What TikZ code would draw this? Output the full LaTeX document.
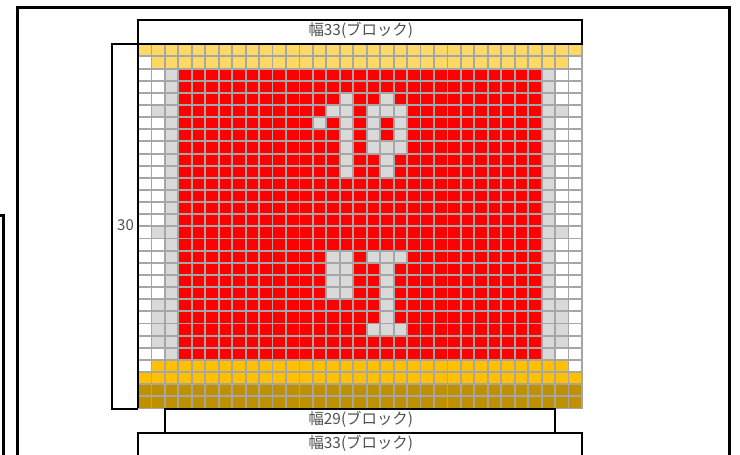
\documentclass[tikz,border=0pt]{standalone}
\usepackage{fontspec}
\setmainfont{Noto Sans CJK JP}
\definecolor{lightgold}{HTML}{FFD966}
\definecolor{amber}{HTML}{FFC000}
\definecolor{darkgold}{HTML}{BF9000}
\definecolor{cellgray}{HTML}{D9D9D9}
\definecolor{gridgray}{HTML}{A6A6A6}
\definecolor{labelgray}{HTML}{505050}
\tikzset{
  gridline/.style={draw=gridgray,line width=1.9pt},
  outerbox/.style={draw=black,line width=3pt},
  sidebox/.style={draw=black,line width=2pt},
  label/.style={text=labelgray,font=\fontsize{15.4}{17}\selectfont,inner sep=0pt},
}
\newcommand{\cellfill}[3]{\fill[#3] (#1,#2) rectangle ++(1,1);}
\begin{document}
\begin{tikzpicture}[x=1pt,y=-1pt]
\useasboundingbox (0,0) rectangle (740,455);
\clip (0,0) rectangle (740,455);
\fill[white] (0,0) rectangle (740,455);
% outer frames
\draw[outerbox] (17.5,470) -- (17.5,7.5) -- (729.7,7.5) -- (729.7,470);
\draw[outerbox] (-5,215) -- (3,215) -- (3,470);
% grid
\begin{scope}[shift={(138,44.3)},x=13.4545pt,y=-12.14pt]
  \fill[lightgold] (0,0) rectangle (33,1);
  \fill[lightgold] (1,1) rectangle (32,2);
  \fill[red] (3,2) rectangle (30,26);
  \fill[cellgray] (2,2) rectangle (3,26);
  \fill[cellgray] (30,2) rectangle (31,26);
  \fill[amber] (1,26) rectangle (32,27);
  \fill[amber] (0,27) rectangle (33,28);
  \fill[darkgold] (0,28) rectangle (33,30);
  \foreach \c/\r in {
    1/5,31/5,1/15,31/15,
    1/21,1/22,1/23,1/24,31/21,31/22,31/23,31/24,
    15/4,18/4,
    14/5,15/5,17/5,18/5,19/5,
    13/6,15/6,17/6,19/6,
    15/7,17/7,19/7,
    15/8,17/8,18/8,19/8,
    15/9,18/9,
    15/10,18/10,
    14/17,15/17,17/17,18/17,19/17,
    14/18,15/18,18/18,
    14/19,15/19,18/19,
    14/20,15/20,18/20,
    18/21,18/22,
    17/23,18/23,19/23}{\cellfill{\c}{\r}{cellgray}}
  \foreach \i in {0,...,33}{\draw[gridline,line cap=rect] (\i,0) -- (\i,30);}
  \foreach \j in {0,...,30}{\draw[gridline,line cap=rect] (0,\j) -- (33,\j);}
\end{scope}
% dimension boxes
\draw[sidebox] (138,44) rectangle (582,20);
\node[label] (topw) at (360.8,30.5) {幅33(ブロック)};
\draw[sidebox] (138,44) -- (111.5,44) -- (111.5,408.5) -- (138,408.5);
\draw[sidebox] (138,44) -- (138,408);
\node[label,font=\fontsize{15}{17}\selectfont] (sideh) at (125.5,225) {30};
\draw[sidebox] (165,408.5) rectangle (555,432.7);
\node[label] (midw) at (360.8,419.5) {幅29(ブロック)};
\draw[sidebox] (138,465) -- (138,432.7) -- (582,432.7) -- (582,465);
\node[label] (botw) at (360.8,443.5) {幅33(ブロック)};
\end{tikzpicture}
\end{document}
